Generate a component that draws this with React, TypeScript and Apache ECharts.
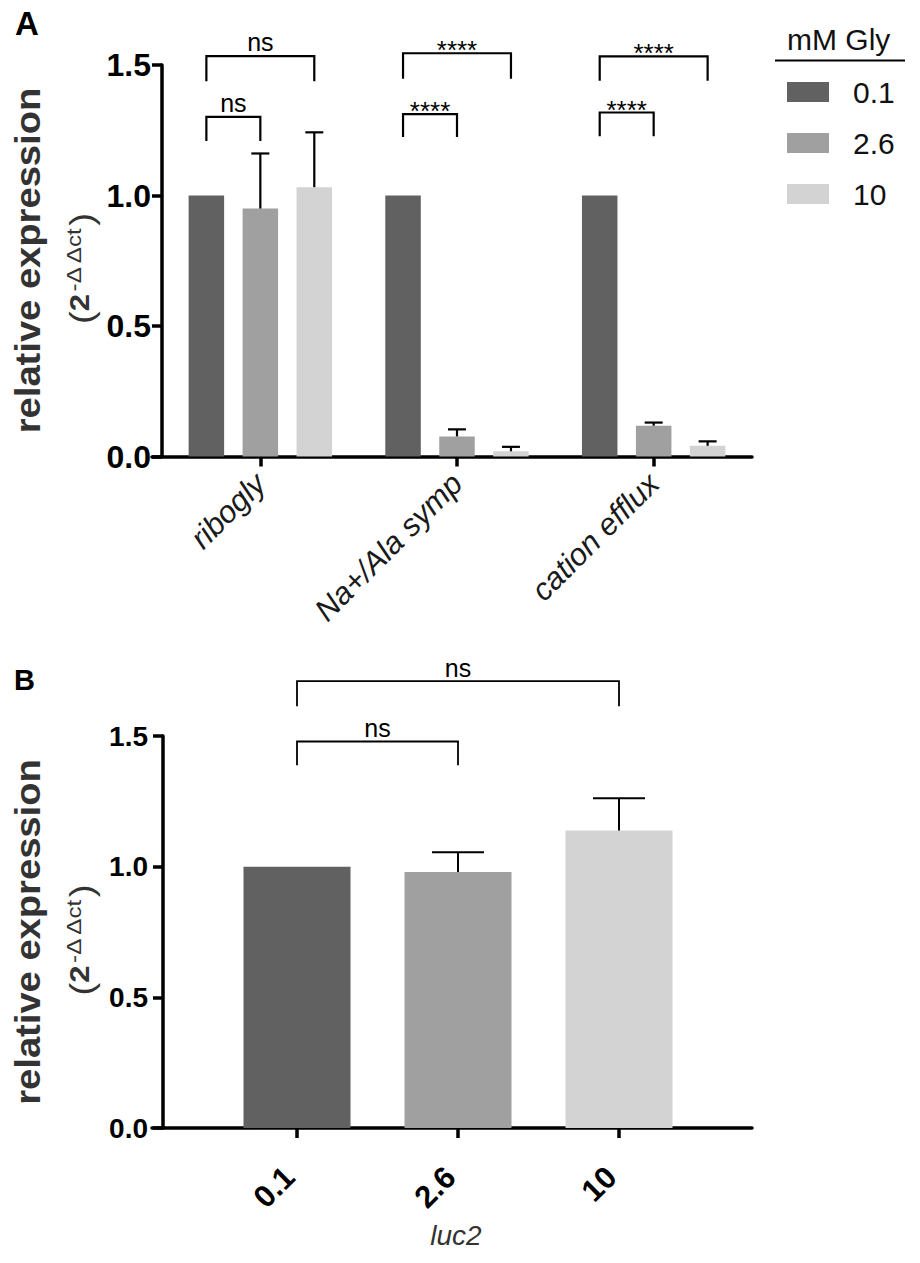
import React, { useEffect, useRef } from "react";
import * as echarts from "echarts";

const FONT = "'Liberation Sans', Arial, Helvetica, sans-serif";

// ---------- Panel A data ----------
const genes = ["ribogly", "Na+/Ala symp", "cation efflux"];
const glyLevels = ["0.1", "2.6", "10"];
const meanGly01 = [1.0, 1.0, 1.0];
const meanGly26 = [0.95, 0.077, 0.118];
const meanGly10 = [1.032, 0.02, 0.041];
const sdGly01 = [0, 0, 0];
const sdGly26 = [0.211, 0.027, 0.012];
const sdGly10 = [0.21, 0.017, 0.017];
// brackets: [gene, fromLevel, toLevel, topValue, legValue]
const bracketsA = [
  [0, 0, 2, 1.534, 1.438],
  [0, 0, 1, 1.301, 1.209],
  [1, 0, 2, 1.545, 1.447],
  [1, 0, 1, 1.312, 1.224],
  [2, 0, 2, 1.533, 1.44],
  [2, 0, 1, 1.318, 1.227],
];
const bracketLabelsA = ["ns", "ns", "****", "****", "****", "****"];

// ---------- Panel B data ----------
const luc2Levels = ["0.1", "2.6", "10"];
const luc2Mean = [1.0, 0.98, 1.138];
const luc2Sd = [0, 0.075, 0.124];
// brackets: [fromLevel, toLevel, topValue, legValue]
const bracketsB = [
  [0, 2, 1.71, 1.614],
  [0, 1, 1.479, 1.388],
];
const bracketLabelsB = ["ns", "ns"];

// y axis ticks
const yMin = 0;
const yMax = 1.5;
const yStep = 0.5;

const colors = ["#616161", "#a0a0a0", "#d3d3d3"];

const BAR_W_A = 35.5;
const BAR_GAP_A = 0.52;
const BAR_W_B = 107;

function buildOption() {
  const meansA = [meanGly01, meanGly26, meanGly10];
  const sdsA = [sdGly01, sdGly26, sdGly10];
  const offA = BAR_W_A * (1 + BAR_GAP_A);

  const errDataA: number[][] = [];
  sdsA.forEach((sds, s) => {
    sds.forEach((sd, g) => {
      if (sd > 0) errDataA.push([g, meansA[s][g], sd, s]);
    });
  });
  const errDataB: number[][] = [];
  luc2Sd.forEach((sd, i) => {
    if (sd > 0) errDataB.push([i, luc2Mean[i], sd]);
  });

  const isStars = (t: string) => t.charAt(0) === "*";

  const yAxisVisible = (fontSize: number, margin: number, gridIndex: number) => ({
    type: "value",
    gridIndex,
    min: yMin,
    max: yMax,
    interval: yStep,
    axisLine: { show: true, lineStyle: { color: "#000", width: 3.5 } },
    axisTick: { show: true, length: 10, lineStyle: { color: "#000", width: 3.5 } },
    axisLabel: {
      margin,
      color: "#000",
      fontSize,
      fontWeight: "bold",
      fontFamily: FONT,
      formatter: (v: number) => v.toFixed(1),
    },
    splitLine: { show: false },
  });
  const yAxisHidden = (gridIndex: number) => ({
    type: "value",
    gridIndex,
    min: yMin,
    max: yMax,
    interval: yStep,
    show: false,
    splitLine: { show: false },
  });
  const xLineAxis = (gridIndex: number) => ({
    type: "value",
    gridIndex,
    min: 0,
    max: 1,
    axisLine: { show: true, lineStyle: { color: "#000", width: 3.5 } },
    axisTick: { show: false },
    axisLabel: { show: false },
    splitLine: { show: false },
  });

  const yTitle = (c: number) => [
    {
      type: "text",
      x: 28,
      y: c,
      rotation: Math.PI / 2,
      scaleX: 1.09,
      style: {
        text: "relative expression",
        fill: "#333",
        fontSize: 35,
        fontWeight: "bold",
        fontFamily: FONT,
        align: "center",
        verticalAlign: "middle",
      },
    },
    {
      type: "text",
      x: 81,
      y: c + 8,
      rotation: Math.PI / 2,
      scaleX: 1.15,
      style: {
        text: "{p|(}{b|2}{s|-\u0394 \u0394ct}{p|)}",
        fill: "#333",
        fontFamily: FONT,
        align: "center",
        verticalAlign: "middle",
        rich: {
          p: { fontSize: 34, fill: "#333", fontFamily: FONT, verticalAlign: "middle" },
          b: { fontSize: 27, fontWeight: "bold", fill: "#333", fontFamily: FONT, verticalAlign: "bottom", padding: [0, 0, 5, 0] },
          s: { fontSize: 21, fill: "#333", fontFamily: FONT, verticalAlign: "top", padding: [0, 1, 0, 1] },
        },
      },
    },
  ];

  return {
    animation: false,
    backgroundColor: "#fff",
    textStyle: { fontFamily: FONT },
    legend: {
      data: glyLevels,
      orient: "vertical",
      left: 787,
      top: 77,
      padding: 0,
      itemWidth: 42,
      itemHeight: 20,
      itemGap: 21,
      icon: "rect",
      selectedMode: false,
      textStyle: {
        fontSize: 30,
        lineHeight: 30,
        color: "#111",
        fontFamily: FONT,
        padding: [0, 0, 0, 19],
      },
    },
    grid: [
      { left: 162, width: 590, top: 65, height: 391.5 },
      { left: 152, width: 600, top: 65, height: 391.5 },
      { left: 163, width: 589, top: 736, height: 392 },
      { left: 152, width: 600, top: 736, height: 392 },
      { left: 216.5, width: 483, top: 736, height: 392 },
    ],
    xAxis: [
      {
        type: "category",
        gridIndex: 0,
        data: genes,
        axisLine: { show: false },
        axisTick: { show: true, alignWithLabel: true, length: 10, lineStyle: { color: "#000", width: 3.5 } },
        axisLabel: {
          interval: 0,
          rotate: 45,
          margin: 22,
          fontSize: 31,
          fontStyle: "italic",
          color: "#1a1a1a",
          fontFamily: FONT,
        },
        splitLine: { show: false },
      },
      xLineAxis(1),
      { type: "value", gridIndex: 2, min: 0, max: 1, show: false },
      xLineAxis(3),
      {
        type: "category",
        gridIndex: 4,
        data: luc2Levels,
        axisLine: { show: false },
        axisTick: { show: true, alignWithLabel: true, length: 10, lineStyle: { color: "#000", width: 3.5 } },
        axisLabel: {
          interval: 0,
          rotate: 45,
          margin: 36,
          padding: [0, 11, 0, 0],
          fontSize: 31,
          fontWeight: "bold",
          color: "#000",
          fontFamily: FONT,
        },
        splitLine: { show: false },
      },
    ],
    yAxis: [
      yAxisVisible(32, 11, 0),
      yAxisHidden(1),
      yAxisVisible(28, 15, 2),
      yAxisHidden(3),
      yAxisHidden(4),
    ],
    series: [
      ...glyLevels.map((lvl, s) => ({
        type: "bar",
        name: lvl,
        xAxisIndex: 0,
        yAxisIndex: 0,
        data: meansA[s],
        barWidth: BAR_W_A,
        barGap: `${BAR_GAP_A * 100}%`,
        itemStyle: { color: colors[s] },
        z: 2,
      })),
      {
        type: "custom",
        name: "errA",
        xAxisIndex: 0,
        yAxisIndex: 0,
        clip: false,
        z: 3,
        data: errDataA,
        renderItem: (params: any, api: any) => {
          const g = api.value(0);
          const m = api.value(1);
          const sd = api.value(2);
          const s = api.value(3);
          const b = api.coord([g, m]);
          const t = api.coord([g, m + sd]);
          const x = b[0] + (s - 1) * offA;
          const st = { stroke: "#000", lineWidth: 2.2 };
          return {
            type: "group",
            children: [
              { type: "line", shape: { x1: x, y1: b[1], x2: x, y2: t[1] }, style: st },
              { type: "line", shape: { x1: x - 9, y1: t[1], x2: x + 9, y2: t[1] }, style: st },
            ],
          };
        },
      },
      {
        type: "custom",
        name: "bracketsA",
        xAxisIndex: 0,
        yAxisIndex: 0,
        clip: false,
        z: 3,
        data: bracketsA,
        renderItem: (params: any, api: any) => {
          const g = api.value(0);
          const f = api.value(1);
          const to = api.value(2);
          const top = api.coord([g, api.value(3)]);
          const leg = api.coord([g, api.value(4)]);
          const x1 = top[0] + (f - 1) * offA;
          const x2 = top[0] + (to - 1) * offA;
          const label = bracketLabelsA[params.dataIndex];
          const stars = isStars(label);
          return {
            type: "group",
            children: [
              {
                type: "polyline",
                shape: { points: [[x1, leg[1]], [x1, top[1]], [x2, top[1]], [x2, leg[1]]] },
                style: { stroke: "#000", lineWidth: 2.2, fill: "none" },
              },
              {
                type: "text",
                x: (x1 + x2) / 2,
                y: top[1] - (stars ? 3 : 14),
                style: {
                  text: label,
                  fill: "#000",
                  fontSize: stars ? 26 : 25,
                  fontFamily: FONT,
                  align: "center",
                  verticalAlign: "middle",
                },
              },
            ],
          };
        },
      },
      {
        type: "bar",
        name: "luc2",
        xAxisIndex: 4,
        yAxisIndex: 4,
        barWidth: BAR_W_B,
        data: luc2Mean.map((v, i) => ({ value: v, itemStyle: { color: colors[i] } })),
        z: 2,
      },
      {
        type: "custom",
        name: "errB",
        xAxisIndex: 4,
        yAxisIndex: 4,
        clip: false,
        z: 3,
        data: errDataB,
        renderItem: (params: any, api: any) => {
          const i = api.value(0);
          const m = api.value(1);
          const sd = api.value(2);
          const b = api.coord([i, m]);
          const t = api.coord([i, m + sd]);
          const x = b[0];
          const st = { stroke: "#000", lineWidth: 2 };
          return {
            type: "group",
            children: [
              { type: "line", shape: { x1: x, y1: b[1], x2: x, y2: t[1] }, style: st },
              { type: "line", shape: { x1: x - 26, y1: t[1], x2: x + 26, y2: t[1] }, style: st },
            ],
          };
        },
      },
      {
        type: "custom",
        name: "bracketsB",
        xAxisIndex: 4,
        yAxisIndex: 4,
        clip: false,
        z: 3,
        data: bracketsB,
        renderItem: (params: any, api: any) => {
          const a = api.coord([api.value(0), api.value(2)]);
          const b = api.coord([api.value(1), api.value(3)]);
          const label = bracketLabelsB[params.dataIndex];
          return {
            type: "group",
            children: [
              {
                type: "polyline",
                shape: { points: [[a[0], b[1]], [a[0], a[1]], [b[0], a[1]], [b[0], b[1]]] },
                style: { stroke: "#000", lineWidth: 1.8, fill: "none" },
              },
              {
                type: "text",
                x: (a[0] + b[0]) / 2,
                y: a[1] - 13,
                style: {
                  text: label,
                  fill: "#000",
                  fontSize: 25,
                  fontFamily: FONT,
                  align: "center",
                  verticalAlign: "middle",
                },
              },
            ],
          };
        },
      },
    ],
    graphic: {
      elements: [
        {
          type: "text",
          x: 15,
          y: 23.5,
          style: { text: "A", fill: "#000", fontSize: 33, fontWeight: "bold", fontFamily: FONT, align: "left", verticalAlign: "middle" },
        },
        {
          type: "text",
          x: 14,
          y: 680,
          style: { text: "B", fill: "#000", fontSize: 29, fontWeight: "bold", fontFamily: FONT, align: "left", verticalAlign: "middle" },
        },
        {
          type: "text",
          x: 787,
          y: 39.5,
          style: { text: "mM Gly", fill: "#111", fontSize: 30, fontFamily: FONT, align: "left", verticalAlign: "middle" },
        },
        {
          type: "line",
          shape: { x1: 775, y1: 60.5, x2: 905, y2: 60.5 },
          style: { stroke: "#000", lineWidth: 2 },
        },
        ...yTitle(260.5),
        ...yTitle(932),
        {
          type: "text",
          x: 456,
          y: 1235,
          style: { text: "luc2", fill: "#333", fontSize: 28, fontStyle: "italic", fontFamily: FONT, align: "center", verticalAlign: "middle" },
        },
      ],
    },
  };
}

export default function App() {
  const ref = useRef<HTMLDivElement>(null);
  useEffect(() => {
    document.body.style.margin = "0";
    if (!ref.current) return;
    const chart = echarts.init(ref.current, undefined, { renderer: "svg" });
    chart.setOption(buildOption() as any);
    return () => chart.dispose();
  }, []);
  return <div ref={ref} style={{ position: "absolute", left: 0, top: 0, width: 920, height: 1263 }} />;
}
